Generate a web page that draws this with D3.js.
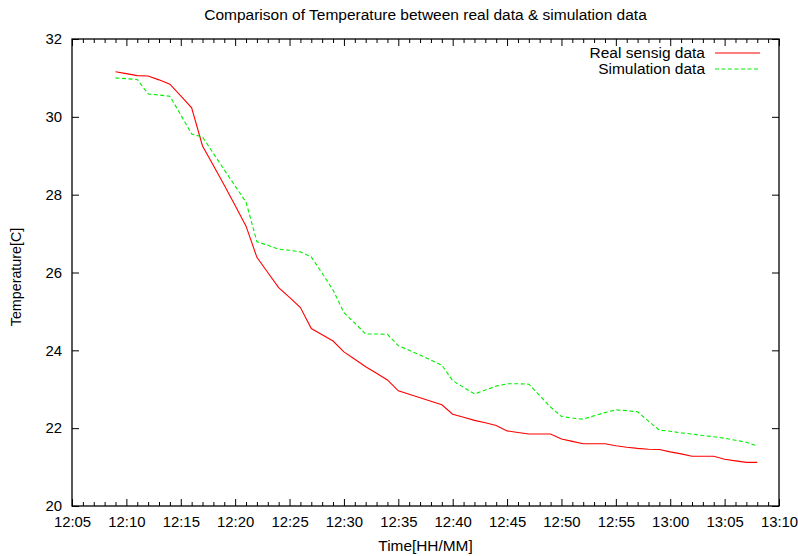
<!DOCTYPE html>
<html>
<head>
<meta charset="utf-8">
<script src="https://cdn.jsdelivr.net/npm/d3@7"></script>
<style>
  html, body { margin: 0; padding: 0; background: #fff; }
  svg { display: block; font-family: "Liberation Sans", Arial, Helvetica, sans-serif; }
</style>
</head>
<body>
<svg id="chart" width="798" height="556"></svg>
<script>
// Sample times (one reading per minute)
const times = [
  "12:09","12:10","12:11","12:12","12:13","12:14","12:15","12:16","12:17","12:18",
  "12:19","12:20","12:21","12:22","12:23","12:24","12:25","12:26","12:27","12:28",
  "12:29","12:30","12:31","12:32","12:33","12:34","12:35","12:36","12:37","12:38",
  "12:39","12:40","12:41","12:42","12:43","12:44","12:45","12:46","12:47","12:48",
  "12:49","12:50","12:51","12:52","12:53","12:54","12:55","12:56","12:57","12:58",
  "12:59","13:00","13:01","13:02","13:03","13:04","13:05","13:06","13:07","13:08"
];

// Measured temperature from the sensor [C]
const realValues = [
  31.16, 31.11, 31.06, 31.05, 30.95, 30.84, 30.54, 30.23, 29.25, 28.75,
  28.24, 27.72, 27.19, 26.39, 26.00, 25.61, 25.36, 25.10, 24.56, 24.40,
  24.24, 23.96, 23.77, 23.58, 23.41, 23.24, 22.96, 22.87, 22.78, 22.69,
  22.60, 22.36, 22.28, 22.20, 22.14, 22.07, 21.93, 21.89, 21.85, 21.85,
  21.85, 21.72, 21.66, 21.60, 21.60, 21.60, 21.55, 21.51, 21.48, 21.46,
  21.45, 21.39, 21.34, 21.28, 21.28, 21.28, 21.20, 21.16, 21.12, 21.12
];

// Simulated temperature [C]
const simValues = [
  31.00, 30.98, 30.96, 30.59, 30.56, 30.53, 30.05, 29.56, 29.48, 29.06,
  28.64, 28.22, 27.81, 26.79, 26.70, 26.60, 26.57, 26.53, 26.40, 25.98,
  25.55, 24.97, 24.70, 24.42, 24.42, 24.41, 24.12, 24.00, 23.88, 23.75,
  23.62, 23.22, 23.05, 22.88, 22.98, 23.08, 23.14, 23.14, 23.13, 22.84,
  22.54, 22.30, 22.26, 22.23, 22.32, 22.40, 22.47, 22.45, 22.42, 22.18,
  21.95, 21.92, 21.88, 21.85, 21.81, 21.78, 21.74, 21.69, 21.64, 21.54
];

// Axis tick labels
const xTickLabels = ["12:05","12:10","12:15","12:20","12:25","12:30","12:35",
                     "12:40","12:45","12:50","12:55","13:00","13:05","13:10"];
const yTickLabels = [20, 22, 24, 26, 28, 30, 32];

const seriesNames = ["Real sensig data", "Simulation data"];
const seriesColors = ["#ff0000", "#00ee00"];

const parseTime = d3.timeParse("%H:%M");
const fmtTime = d3.timeFormat("%H:%M");

const W = 798, H = 556;
const margin = { left: 72, right: 19, top: 39, bottom: 50 };
const plotW = W - margin.left - margin.right;
const plotH = H - margin.top - margin.bottom;

const svg = d3.select("#chart");
const g = svg.append("g").attr("transform", `translate(${margin.left},${margin.top})`);

const xTicks = xTickLabels.map(parseTime);
const x = d3.scaleTime()
  .domain([xTicks[0], xTicks[xTicks.length - 1]])
  .range([0, plotW]);
const y = d3.scaleLinear()
  .domain([yTickLabels[0], yTickLabels[yTickLabels.length - 1]])
  .range([plotH, 0]);

const minorTicks = d3.timeMinute.range(xTicks[0], xTicks[xTicks.length - 1])
  .filter(d => d.getMinutes() % 5 !== 0);

const tickFont = "14.9px";

// Bottom axis: major labelled ticks pointing inward, minor every minute
const xAxis = g.append("g").attr("transform", `translate(0,${plotH})`)
  .call(d3.axisBottom(x).tickValues(xTicks).tickFormat(fmtTime)
    .tickSizeInner(-7).tickSizeOuter(0).tickPadding(10));
xAxis.select(".domain").remove();
xAxis.selectAll("text").attr("font-size", tickFont).attr("fill", "#000")
  .attr("font-family", "Liberation Sans, Arial, sans-serif");
g.append("g").attr("transform", `translate(0,${plotH})`)
  .call(d3.axisBottom(x).tickValues(minorTicks).tickFormat("")
    .tickSizeInner(-4).tickSizeOuter(0))
  .call(s => s.select(".domain").remove());

// Top mirror ticks
g.append("g")
  .call(d3.axisTop(x).tickValues(xTicks).tickFormat("").tickSizeInner(-7).tickSizeOuter(0))
  .call(s => s.select(".domain").remove());
g.append("g")
  .call(d3.axisTop(x).tickValues(minorTicks).tickFormat("").tickSizeInner(-4).tickSizeOuter(0))
  .call(s => s.select(".domain").remove());

// Left axis
const yAxis = g.append("g")
  .call(d3.axisLeft(y).tickValues(yTickLabels).tickFormat(d3.format("d"))
    .tickSizeInner(-7).tickSizeOuter(0).tickPadding(10));
yAxis.select(".domain").remove();
yAxis.selectAll("text").attr("font-size", tickFont).attr("fill", "#000")
  .attr("font-family", "Liberation Sans, Arial, sans-serif");

// Right mirror ticks
g.append("g").attr("transform", `translate(${plotW},0)`)
  .call(d3.axisRight(y).tickValues(yTickLabels).tickFormat("").tickSizeInner(-7).tickSizeOuter(0))
  .call(s => s.select(".domain").remove());

g.selectAll(".tick line").attr("stroke", "#000").attr("stroke-width", 1);

// Frame
g.append("rect")
  .attr("x", 0).attr("y", 0).attr("width", plotW).attr("height", plotH)
  .attr("fill", "none").attr("stroke", "#000").attr("stroke-width", 1.3);

// Series lines
const line = d3.line()
  .x((d, i) => x(parseTime(times[i])))
  .y(d => y(d));

g.append("path").datum(realValues)
  .attr("d", line).attr("fill", "none")
  .attr("stroke", seriesColors[0]).attr("stroke-width", 1.1);

g.append("path").datum(simValues)
  .attr("d", line).attr("fill", "none")
  .attr("stroke", seriesColors[1]).attr("stroke-width", 1.1)
  .attr("stroke-dasharray", "4,2.5");

// Legend (top right, inside the plot)
const legend = svg.append("g");
seriesNames.forEach((name, i) => {
  const ly = 53 + i * 16;
  legend.append("text")
    .attr("x", 705).attr("y", ly).attr("dy", "0.35em")
    .attr("text-anchor", "end").attr("font-size", "15.5px").attr("fill", "#000")
    .text(name);
  legend.append("line")
    .attr("x1", 715).attr("x2", 760).attr("y1", ly).attr("y2", ly)
    .attr("stroke", seriesColors[i]).attr("stroke-width", 1.1)
    .attr("stroke-dasharray", i === 1 ? "4,2.5" : null);
});

// Title and axis labels
svg.append("text")
  .attr("x", margin.left + plotW / 2).attr("y", 20)
  .attr("text-anchor", "middle").attr("font-size", "15.5px").attr("fill", "#000")
  .text("Comparison of Temperature between real data & simulation data");

svg.append("text")
  .attr("x", margin.left + plotW / 2).attr("y", 551)
  .attr("text-anchor", "middle").attr("font-size", "15.4px").attr("fill", "#000")
  .text("Time[HH/MM]");

svg.append("text")
  .attr("transform", `translate(21,277) rotate(-90)`)
  .attr("text-anchor", "middle").attr("font-size", "14.3px").attr("fill", "#000")
  .text("Temperature[C]");
</script>
</body>
</html>
